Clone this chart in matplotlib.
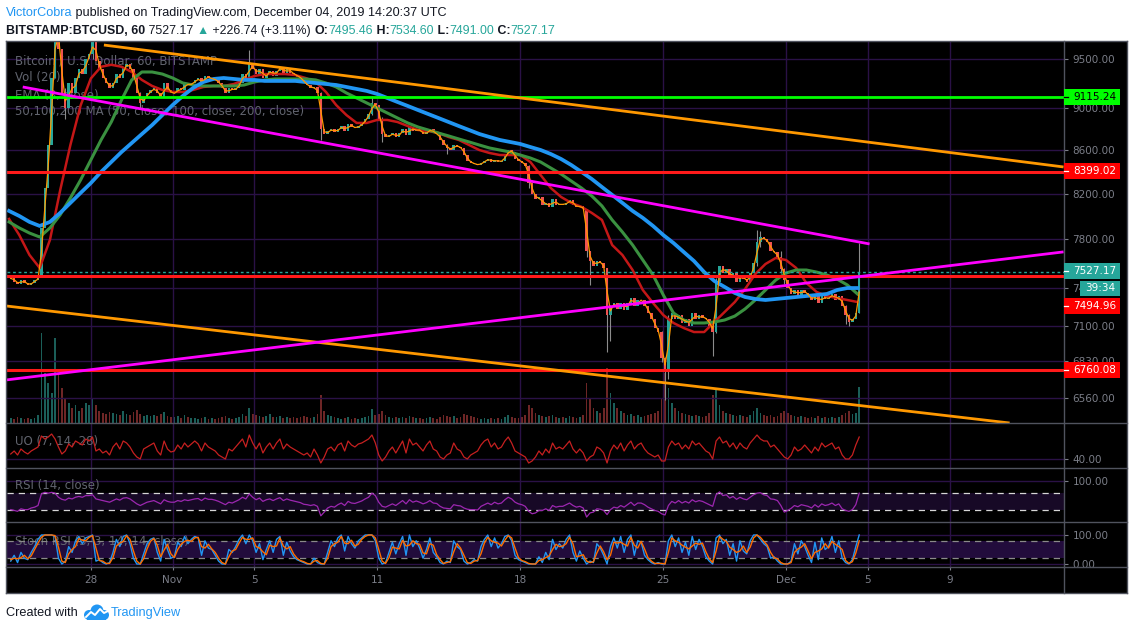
import matplotlib
matplotlib.use("Agg")
import matplotlib.pyplot as plt
from matplotlib.patches import Rectangle, Circle
from matplotlib.lines import Line2D
from matplotlib.ticker import FixedLocator, NullLocator, FuncFormatter
from matplotlib.transforms import Bbox, TransformedBbox
import numpy as np

plt.rcParams['font.family'] = ['DejaVu Sans']

# ---------------- data (4-hour bars, Oct 24 00:00 -> Dec 4 16:00 UTC) ----------------
first_open = 7470
close = [
    7480, 7450, 7430, 7460, 7440, 7420,
    7440, 7460, 7480, 7900, 8250, 8650,
    9300, 9900, 9600, 9150, 9000, 9250,
    9150, 9300, 9400, 9350, 9500, 9550,
    9700, 9480, 9400, 9300, 9250, 9200,
    9250, 9350, 9300, 9420, 9450, 9400,
    9300, 9150, 9050, 9100, 9150, 9180,
    9200, 9150, 9100, 9250, 9180, 9150,
    9150, 9200, 9180, 9250, 9230, 9250,
    9280, 9300, 9250, 9330, 9300, 9300,
    9280, 9250, 9200, 9150, 9200, 9180,
    9200, 9250, 9350, 9300, 9450, 9400,
    9350, 9400, 9300, 9350, 9380, 9330,
    9380, 9420, 9350, 9400, 9360, 9340,
    9320, 9300, 9250, 9230, 9200, 9210,
    9150, 8800, 8750, 8780, 8800, 8770,
    8800, 8830, 8780, 8850, 8820, 8810,
    8830, 8850, 8900, 8950, 9050, 9030,
    8900, 8750, 8720, 8740, 8760, 8720,
    8760, 8800, 8740, 8820, 8780, 8800,
    8780, 8750, 8770, 8800, 8760, 8750,
    8700, 8650, 8620, 8600, 8650, 8630,
    8620, 8550, 8500, 8480, 8470, 8460,
    8480, 8500, 8520, 8490, 8510, 8490,
    8500, 8550, 8600, 8580, 8520, 8500,
    8480, 8450, 8300, 8200, 8150, 8170,
    8100, 8120, 8080, 8150, 8100, 8110,
    8100, 8120, 8140, 8100, 8080, 8090,
    8060, 7700, 7620, 7580, 7620, 7600,
    7560, 7180, 7250, 7280, 7230, 7280,
    7220, 7280, 7320, 7250, 7300, 7300,
    7250, 7200, 7150, 7080, 7050, 6850,
    6750, 7150, 7200, 7150, 7180, 7120,
    7150, 7100, 7200, 7150, 7180, 7160,
    7150, 7100, 7050, 7450, 7580, 7520,
    7550, 7480, 7520, 7450, 7500, 7470,
    7450, 7520, 7600, 7780, 7820, 7800,
    7780, 7700, 7690, 7650, 7550, 7460,
    7400, 7350, 7380, 7340, 7380, 7360,
    7330, 7300, 7340, 7280, 7330, 7310,
    7320, 7350, 7300, 7330, 7250, 7180,
    7130, 7150, 7200, 7527.17]

ema8 = [
    7475, 7465, 7440, 7445, 7450, 7430,
    7430, 7450, 7470, 7690, 8075, 8450,
    8975, 9600, 9750, 9375, 9075, 9125,
    9200, 9225, 9350, 9375, 9425, 9525,
    9625, 9590, 9440, 9350, 9275, 9225,
    9225, 9300, 9325, 9360, 9435, 9425,
    9350, 9225, 9100, 9075, 9125, 9165,
    9190, 9175, 9125, 9175, 9215, 9165,
    9150, 9175, 9190, 9215, 9240, 9240,
    9265, 9290, 9275, 9290, 9315, 9300,
    9290, 9265, 9225, 9175, 9175, 9190,
    9190, 9225, 9300, 9325, 9375, 9425,
    9375, 9375, 9350, 9325, 9365, 9355,
    9355, 9400, 9385, 9375, 9380, 9350,
    9330, 9310, 9275, 9240, 9215, 9205,
    9180, 8975, 8775, 8765, 8790, 8785,
    8785, 8815, 8805, 8815, 8835, 8815,
    8820, 8840, 8875, 8925, 9000, 9040,
    8965, 8825, 8735, 8730, 8750, 8740,
    8740, 8780, 8770, 8780, 8800, 8790,
    8790, 8765, 8760, 8785, 8780, 8755,
    8725, 8675, 8635, 8610, 8625, 8640,
    8625, 8585, 8525, 8490, 8475, 8465,
    8470, 8490, 8510, 8505, 8500, 8500,
    8495, 8525, 8575, 8590, 8550, 8510,
    8490, 8465, 8375, 8250, 8175, 8160,
    8135, 8110, 8100, 8115, 8125, 8105,
    8105, 8110, 8130, 8120, 8090, 8085,
    8075, 7880, 7660, 7600, 7600, 7610,
    7580, 7370, 7215, 7265, 7255, 7255,
    7250, 7250, 7300, 7285, 7275, 7300,
    7275, 7225, 7175, 7115, 7065, 6950,
    6800, 6950, 7175, 7175, 7165, 7150,
    7135, 7125, 7150, 7175, 7165, 7170,
    7155, 7125, 7075, 7250, 7515, 7550,
    7535, 7515, 7500, 7485, 7475, 7485,
    7460, 7485, 7560, 7690, 7800, 7810,
    7790, 7740, 7695, 7670, 7600, 7505,
    7430, 7375, 7365, 7360, 7360, 7370,
    7345, 7315, 7320, 7310, 7305, 7320,
    7315, 7335, 7325, 7315, 7290, 7215,
    7155, 7140, 7175, 7365]

volume = [
    500, 400, 600, 500, 400, 500,
    400, 500, 800, 9000, 5000, 4000,
    3000, 8500, 5000, 3500, 2500, 2000,
    1500, 1800, 1200, 1500, 2000, 1800,
    2500, 1800, 1200, 1000, 900, 1100,
    1000, 900, 800, 1200, 900, 800,
    1100, 1300, 900, 700, 800, 700,
    800, 700, 900, 1100, 700, 600,
    600, 700, 500, 800, 600, 500,
    500, 400, 500, 600, 400, 500,
    400, 500, 600, 700, 500, 400,
    500, 600, 900, 700, 1500, 900,
    800, 700, 600, 700, 900, 600,
    600, 700, 500, 600, 500, 600,
    500, 600, 700, 600, 500, 600,
    900, 2800, 1200, 800, 700, 600,
    500, 400, 500, 600, 400, 500,
    400, 500, 600, 700, 1400, 800,
    900, 1200, 800, 600, 500, 600,
    500, 600, 500, 700, 600, 500,
    500, 400, 500, 600, 500, 400,
    600, 800, 700, 600, 700, 500,
    600, 900, 800, 700, 600, 500,
    400, 500, 400, 500, 400, 500,
    400, 600, 800, 600, 500, 500,
    600, 800, 1800, 1500, 1000, 800,
    700, 600, 700, 800, 600, 500,
    600, 500, 700, 600, 500, 600,
    800, 4000, 2500, 1500, 1200, 1000,
    1500, 5500, 3000, 2000, 1500, 1200,
    1000, 800, 900, 700, 800, 600,
    700, 800, 900, 1000, 1200, 2500,
    5000, 3500, 2000, 1500, 1200, 1000,
    900, 800, 700, 800, 700, 600,
    700, 1000, 2800, 3500, 1800, 1200,
    1000, 900, 800, 700, 800, 700,
    600, 800, 1200, 1500, 1000, 800,
    700, 800, 600, 700, 1000, 1200,
    1000, 800, 700, 600, 700, 600,
    500, 600, 500, 700, 500, 600,
    500, 600, 500, 600, 800, 1000,
    1200, 900, 1000, 3600]

# notable wicks: bar index, low, high
wick_idx = [13, 16, 24, 38, 70, 91, 106, 109, 128, 152, 169, 170, 175, 176,
            191, 192, 193, 206, 207, 219, 220, 226, 227, 245, 246, 249]
wick_low = [9300, 8900, 9500, 9000, 9280, 8700, 8940, 8680, 8560, 8250, 7650, 7420, 6900, 6980,
            6820, 6545, 6700, 6870, 7040, 7580, 7740, 7520, 7430, 7110, 7100, 7200]
wick_high = [10300, 9200, 9900, 9160, 9590, 9160, 9120, 8920, 8660, 8460, 8060, 7700, 7560, 7260,
             7060, 6860, 7180, 7110, 7480, 7880, 7870, 7700, 7560, 7260, 7190, 7770]

# moving averages, sampled every 12 hours from Oct 24 00:00
ma50 = [7977, 7838, 7669, 7561, 7796, 8230, 8648, 9030, 9300, 9420, 9440, 9420, 9366, 9285,
        9224, 9184, 9164, 9164, 9184, 9214, 9224, 9224, 9244, 9285, 9325, 9345, 9345, 9345,
        9335, 9305, 9264, 9164, 9034, 8936, 8859, 8859, 8888, 8888, 8868, 8829, 8791, 8781,
        8762, 8724, 8696, 8648, 8601, 8573, 8554, 8554, 8554, 8489, 8369, 8251, 8171, 8118,
        8083, 8030, 7968, 7753, 7669, 7544, 7381, 7277, 7182, 7120, 7081, 7050, 7050, 7128,
        7206, 7285, 7389, 7511, 7594, 7644, 7627, 7561, 7438, 7365, 7333, 7317, 7301, 7285]
ma100 = [7951, 7899, 7855, 7821, 7899, 8012, 8162, 8324, 8508, 8696, 8868, 9084, 9285, 9366,
         9366, 9345, 9305, 9254, 9234, 9224, 9224, 9224, 9224, 9234, 9264, 9285, 9295, 9295,
         9295, 9295, 9285, 9254, 9214, 9154, 9104, 9054, 9005, 8956, 8907, 8859, 8820, 8791,
         8762, 8734, 8705, 8677, 8648, 8620, 8601, 8582, 8554, 8526, 8489, 8433, 8378, 8314,
         8251, 8180, 8091, 7968, 7864, 7753, 7627, 7503, 7341, 7198, 7143, 7120, 7120, 7128,
         7143, 7174, 7230, 7301, 7381, 7462, 7519, 7544, 7544, 7527, 7503, 7470, 7422, 7349]
ma200 = [8047, 8003, 7951, 7916, 7951, 8030, 8118, 8207, 8296, 8397, 8489, 8582, 8667, 8753,
         8839, 8936, 9034, 9124, 9204, 9264, 9295, 9305, 9295, 9285, 9285, 9275, 9275, 9275,
         9275, 9264, 9254, 9244, 9234, 9214, 9194, 9174, 9144, 9104, 9064, 9025, 8985, 8946,
         8907, 8868, 8829, 8791, 8753, 8724, 8696, 8677, 8658, 8629, 8601, 8563, 8517, 8461,
         8397, 8333, 8260, 8189, 8118, 8047, 7986, 7916, 7838, 7770, 7694, 7619, 7527, 7454,
         7406, 7357, 7325, 7309, 7301, 7309, 7317, 7325, 7333, 7341, 7349, 7381, 7397, 7397]

uo = [
    45, 48, 44, 50, 47, 45,   48, 50, 52, 63, 60, 62,   65, 60, 52, 45, 48, 55,
    52, 58, 56, 54, 60, 58,   62, 48, 50, 46, 48, 44,   52, 56, 50, 58, 56, 52,
    46, 42, 40, 50, 52, 54,   56, 48, 44, 58, 50, 47,   48, 54, 50, 56, 52, 55,
    58, 55, 48, 56, 52, 50,   48, 44, 42, 40, 50, 48,   52, 56, 60, 52, 64, 56,
    50, 56, 46, 52, 56, 50,   56, 60, 50, 55, 52, 50,   48, 46, 44, 46, 42, 50,
    44, 36, 42, 50, 52, 48,   54, 56, 48, 58, 54, 52,   55, 56, 58, 60, 64, 56,
    44, 38, 42, 48, 52, 46,   52, 58, 46, 60, 54, 56,   52, 48, 54, 58, 50, 48,
    42, 40, 44, 46, 56, 50,   48, 42, 40, 44, 46, 48,   54, 58, 60, 52, 56, 50,
    52, 58, 62, 56, 48, 46,   44, 42, 36, 38, 42, 48,   44, 50, 46, 56, 50, 52,
    50, 54, 58, 50, 46, 50,   46, 38, 42, 44, 52, 50,   46, 36, 48, 54, 50, 56,
    48, 54, 58, 50, 54, 56,   50, 46, 44, 42, 44, 38,   38, 52, 58, 54, 56, 50,
    54, 50, 58, 54, 56, 52,   48, 46, 40, 58, 62, 56,   58, 52, 56, 50, 56, 52,
    50, 56, 60, 64, 60, 58,   58, 52, 54, 50, 46, 42,   40, 44, 52, 48, 50, 54,
    50, 46, 52, 48, 56, 52,   54, 56, 50, 52, 44, 40,   40, 44, 54, 62]

rsi = [
    30, 28, 26, 32, 30, 30,   34, 36, 40, 68, 72, 70,   72, 70, 60, 55, 53, 58,
    56, 60, 62, 60, 64, 64,   66, 56, 54, 52, 50, 48,   52, 56, 53, 58, 59, 56,
    50, 44, 40, 44, 48, 50,   52, 48, 44, 54, 50, 48,   48, 52, 50, 54, 52, 54,
    56, 57, 52, 58, 55, 55,   53, 50, 46, 42, 48, 46,   50, 54, 60, 56, 68, 60,
    54, 58, 50, 54, 56, 52,   56, 59, 52, 56, 53, 51,   49, 47, 43, 42, 40, 42,
    38, 15, 24, 34, 38, 36,   42, 46, 40, 50, 46, 45,   48, 51, 56, 60, 70, 64,
    48, 38, 36, 40, 44, 40,   46, 52, 44, 54, 48, 51,   48, 44, 47, 52, 46, 45,
    38, 34, 33, 32, 42, 40,   39, 34, 31, 30, 30, 29,   38, 42, 46, 42, 48, 44,
    46, 54, 60, 56, 48, 44,   42, 38, 26, 20, 22, 28,   28, 32, 28, 40, 36, 38,
    38, 42, 46, 40, 36, 38,   34, 12, 22, 24, 32, 31,   28, 18, 30, 36, 34, 40,
    36, 42, 48, 40, 46, 46,   42, 36, 32, 28, 26, 20,   17, 40, 50, 46, 52, 46,
    50, 46, 54, 49, 52, 50,   46, 42, 38, 66, 73, 64,   66, 58, 62, 55, 60, 56,
    54, 60, 66, 70, 71, 66,   64, 56, 55, 52, 40, 24,   28, 33, 40, 37, 42, 40,
    38, 34, 42, 36, 44, 40,   42, 46, 40, 44, 32, 28,   26, 30, 42, 70]

stoch_k = [
    10, 30, 5, 40, 20, 15,    40, 60, 85, 100, 100, 100,   100, 95, 20, 0, 10, 60,
    40, 80, 95, 70, 90, 95,   100, 10, 15, 5, 0, 5,        40, 85, 60, 95, 100, 70,
    20, 0, 0, 35, 70, 85,     90, 40, 10, 85, 50, 20,      25, 75, 60, 95, 70, 85,
    95, 90, 30, 80, 55, 50,   30, 10, 0, 0, 50, 40,        60, 85, 100, 70, 100, 80,
    40, 70, 15, 50, 80, 40,   85, 95, 30, 75, 45, 25,      15, 10, 5, 0, 0, 20,
    5, 0, 0, 40, 80, 60,      90, 100, 45, 95, 70, 55,     80, 90, 100, 100, 100, 80,
    20, 0, 5, 40, 75, 35,     70, 95, 30, 100, 60, 80,     55, 20, 50, 90, 40, 25,
    5, 0, 10, 5, 80, 60,      50, 10, 0, 5, 15, 10,        60, 85, 100, 60, 90, 55,
    70, 95, 100, 80, 30, 15,  10, 5, 0, 0, 0, 25,          5, 40, 15, 85, 50, 70,
    55, 85, 100, 40, 10, 45,  20, 0, 10, 5, 70, 55,        30, 0, 60, 90, 55, 95,
    40, 85, 100, 30, 80, 75,  30, 15, 5, 0, 5, 0,          0, 80, 100, 60, 90, 40,
    75, 30, 95, 50, 85, 60,   25, 10, 0, 90, 100, 70,      85, 30, 70, 10, 80, 45,
    35, 80, 100, 100, 85, 70, 60, 20, 25, 10, 0, 0,        0, 10, 70, 35, 80, 60,
    30, 5, 75, 15, 90, 50,    60, 95, 40, 80, 20, 5,       0, 15, 60, 100]

stoch_d = [
    15, 20, 18, 22, 30, 18,   28, 50, 72, 92, 100, 100,    100, 98, 58, 10, 5, 35,
    50, 60, 88, 82, 80, 92,   98, 55, 12, 10, 2, 2,        22, 62, 72, 78, 98, 85,
    45, 10, 0, 18, 52, 78,    88, 65, 25, 48, 68, 35,      22, 50, 68, 78, 82, 78,
    90, 92, 60, 55, 68, 52,   40, 20, 5, 0, 25, 45,        50, 72, 92, 85, 85, 90,
    60, 55, 42, 32, 65, 60,   62, 90, 62, 52, 60, 35,      20, 12, 8, 2, 0, 10,
    12, 2, 0, 20, 60, 70,     75, 95, 72, 70, 82, 62,      68, 85, 95, 100, 100, 90,
    50, 10, 2, 22, 58, 55,    52, 82, 62, 65, 80, 70,      68, 38, 35, 70, 65, 32,
    15, 2, 5, 8, 42, 70,      55, 30, 5, 2, 10, 12,        35, 72, 92, 80, 75, 72,
    62, 82, 98, 90, 55, 22,   12, 8, 2, 0, 0, 12,          15, 22, 28, 50, 68, 60,
    62, 70, 92, 70, 25, 28,   32, 10, 5, 8, 38, 62,        42, 15, 30, 75, 72, 75,
    68, 62, 92, 65, 55, 78,   52, 22, 10, 2, 2, 2,         0, 40, 90, 80, 75, 65,
    58, 52, 62, 72, 68, 72,   42, 18, 5, 45, 95, 85,       78, 58, 50, 40, 45, 62,
    40, 58, 90, 100, 92, 78,  65, 40, 22, 18, 5, 0,        0, 5, 40, 52, 58, 70,
    45, 18, 40, 45, 52, 70,   55, 78, 68, 60, 50, 12,      2, 8, 38, 80]

# drawn horizontal levels and trend lines (day offsets from Oct 28 00:00, price)
level_green = 9115.24
levels_red = [8399.02, 7494.96, 6760.08]
last_price = 7527.17
orange_top = ([0.64, 47.58], [9646, 8443])
orange_bottom = ([-4.11, 44.94], [7253, 6383])
magenta_down = ([-3.33, 38.09], [9214, 7762])
magenta_up = ([-4.11, 47.58], [6691, 7695])

price_ticks = [9500, 9000, 8600, 8200, 7800, 7400, 7100, 6830, 6560]
date_ticks = [0, 4, 8, 14, 21, 28, 34, 38, 42]
date_labels = ['28', 'Nov', '5', '11', '18', '25', 'Dec', '5', '9']

# ---------------- figure ----------------
W, H = 1133, 631
fig = plt.figure(figsize=(W / 100, H / 100), dpi=100)
fig.patch.set_facecolor('white')


def fx(px):
    return px / W


def fy(py):
    return 1 - py / H


BG = 'black'
GRID = '#2a1146'
FRAME = '#50535e'
AXTXT = '#7b7e88'
LEGTXT = '#62656f'
UP = '#26a69a'
DN = '#ef5350'
XMIN, XMAX = -4.1, 47.6
X0, X1 = 7, 1064

fig.add_artist(Rectangle((fx(6), fy(593)), fx(1127) - fx(6), fy(41) - fy(593),
                         transform=fig.transFigure, facecolor=BG, edgecolor='none', zorder=-5))


def make_ax(top, bottom, z=1, face=BG):
    ax = fig.add_axes([fx(X0), fy(bottom), (X1 - X0) / W, (bottom - top) / H], zorder=z)
    ax.set_facecolor(face)
    for s in ax.spines.values():
        s.set_visible(False)
    ax.set_xlim(XMIN, XMAX)
    ax.xaxis.set_major_locator(FixedLocator(date_ticks))
    ax.tick_params(axis='x', which='both', bottom=False, labelbottom=False)
    ax.yaxis.tick_right()
    ax.tick_params(axis='y', which='major', direction='out', length=3, width=0.8,
                   color=AXTXT, labelcolor=AXTXT, labelsize=7.5, pad=3)
    ax.tick_params(axis='y', which='minor', length=0)
    ax.set_axisbelow(True)
    return ax


n = len(close)
t = -4 + (np.arange(n) + 0.5) / 6.0
c = np.array(close, dtype=float)
o = np.r_[first_open, c[:-1]]
up = c >= o
ma_t = -4 + 0.5 * np.arange(len(ma50))

# volume pane (behind price)
ax_vol = make_ax(42, 423, z=0)
ax_vol.set_ylim(0, 38100)
ax_vol.set_yticks([])
ax_vol.bar(t, volume, width=0.085, color=np.where(up, '#1b5f59', '#6e2626'), linewidth=0)

# main price pane
ax = make_ax(42, 423, z=1, face='none')
ax.set_yscale('log')
ax.set_ylim(6383, 9678)
ax.yaxis.set_major_locator(FixedLocator(price_ticks))
ax.yaxis.set_minor_locator(NullLocator())
ax.yaxis.set_major_formatter(FuncFormatter(lambda v, p: f'{v:.2f}'))
ax.grid(True, axis='both', color=GRID, lw=1)

for i, s in enumerate(['Bitcoin / U.S. Dollar, 60, BITSTAMP', 'Vol (20)', 'EMA (8, close)',
                       '50,100,200 MA (50, close, 100, close, 200, close)']):
    ax.text(fx(15), fy(61 + 17 * i), s, transform=fig.transFigure, color=LEGTXT,
            fontsize=8.5, va='center', ha='left', zorder=1)

ax.vlines(np.array(t)[wick_idx], wick_low, wick_high, color='#8c8c8c', lw=0.8, zorder=1.9)
ax.bar(t[up], (c - o)[up], bottom=o[up], width=0.12, color=UP, linewidth=0, zorder=2)
ax.bar(t[~up], (o - c)[~up], bottom=c[~up], width=0.12, color=DN, linewidth=0, zorder=2)

ax.plot(ma_t, ma50, color='#c41717', lw=1.8, zorder=3)
ax.plot(ma_t, ma100, color='#3a9140', lw=2.2, zorder=3.1)
ax.plot(ma_t, ma200, color='#2196f3', lw=2.7, zorder=3.2)
ax.plot(t, ema8, color='#ff9800', lw=0.9, zorder=3.5)

ax.axhline(level_green, color='#00ff00', lw=2, zorder=4)
for lv in levels_red:
    ax.axhline(lv, color='#ff1a1a', lw=2.2, zorder=4)
ax.axhline(last_price, color=UP, lw=1, ls=(0, (2, 2)), zorder=4)
for xs, ys in [orange_top, orange_bottom]:
    ax.plot(xs, ys, color='#ff9800', lw=2, zorder=4, solid_capstyle='butt')
for xs, ys in [magenta_down, magenta_up]:
    ax.plot(xs, ys, color='#ff00ff', lw=2, zorder=4, solid_capstyle='butt')

# UO pane
ax_uo = make_ax(423, 468)
ax_uo.set_ylim(31, 76)
ax_uo.set_yticks([40])
ax_uo.yaxis.set_major_formatter(FuncFormatter(lambda v, p: f'{v:.2f}'))
ax_uo.grid(True, axis='both', color=GRID, lw=1)
ax_uo.text(fx(15), fy(441), 'UO (7, 14, 28)', transform=fig.transFigure, color=LEGTXT,
           fontsize=8.5, va='center', zorder=1)
ax_uo.plot(t, uo, color='#c62020', lw=0.9, zorder=3)

# RSI pane
ax_rsi = make_ax(468, 522)
ax_rsi.set_ylim(0, 131)
ax_rsi.set_yticks([100])
ax_rsi.yaxis.set_major_formatter(FuncFormatter(lambda v, p: f'{v:.2f}'))
ax_rsi.grid(True, axis='both', color=GRID, lw=1)
ax_rsi.axhspan(30, 70, color='#170926', lw=0, zorder=0.5)
for lv in (70, 30):
    ax_rsi.axhline(lv, color='#d6d6d6', lw=0.9, ls=(0, (5, 4)), zorder=1.5)
ax_rsi.text(fx(15), fy(486), 'RSI (14, close)', transform=fig.transFigure, color=LEGTXT,
            fontsize=8.5, va='center', zorder=1)
ax_rsi.plot(t, rsi, color='#9c27b0', lw=0.9, zorder=3)

# Stoch RSI pane
ax_st = make_ax(522, 567)
ax_st.set_ylim(-10.3, 144.8)
ax_st.set_yticks([100, 0])
ax_st.yaxis.set_major_formatter(FuncFormatter(lambda v, p: f'{v:.2f}'))
ax_st.grid(True, axis='both', color=GRID, lw=1)
ax_st.axhspan(20, 80, color='#220c3c', lw=0, zorder=0.5)
for lv in (80, 20):
    ax_st.axhline(lv, color='#8a8a8a', lw=0.9, ls=(0, (5, 4)), zorder=1.5)
ax_st.text(fx(15), fy(541), 'Stoch RSI (3, 3, 14, 14, close)', transform=fig.transFigure,
           color=LEGTXT, fontsize=8.5, va='center', zorder=1)
ax_st.plot(t, stoch_k, color='#2196f3', lw=1, zorder=3)
ax_st.plot(t, stoch_d, color='#ff6d00', lw=1, zorder=3.1)
ax_st.set_xticks(date_ticks)
ax_st.set_xticklabels(date_labels)
ax_st.tick_params(axis='x', bottom=True, labelbottom=True, direction='out', length=2.5,
                  width=0.8, color=AXTXT, labelcolor=AXTXT, labelsize=7.5, pad=3.5)
clipbb = TransformedBbox(Bbox([[fx(1064), fy(567)], [fx(1127), fy(522)]]), fig.transFigure)
for tk in ax_st.yaxis.get_major_ticks():
    tk.label2.set_clip_box(clipbb)
    tk.label2.set_clip_on(True)
# the 7400 axis label is mostly hidden behind the countdown box, as in the reference
clip74 = TransformedBbox(Bbox([[fx(1064), fy(423)], [fx(1080), fy(42)]]), fig.transFigure)
for tk in ax.yaxis.get_major_ticks():
    if abs(tk.get_loc() - 7400) < 1:
        tk.label2.set_clip_box(clip74)
        tk.label2.set_clip_on(True)


# frame
def fline(xa, ya, xb, yb, col=FRAME, lw=1.0):
    fig.add_artist(Line2D([fx(xa), fx(xb)], [fy(ya), fy(yb)], transform=fig.transFigure,
                          color=col, lw=lw, zorder=10))


for yy in (423, 468, 522, 567):
    fline(6, yy, 1127, yy)
fline(6, 41, 1127, 41)
fline(6, 593, 1127, 593)
fline(6, 41, 6, 593)
fline(1127, 41, 1127, 593)
fline(1064, 41, 1064, 593)


# price labels on the axis
def price_box(yc, text, face, tcol, x0=1064, x1=1120, h=16, tx=1073, ha='left', dash=True):
    fig.add_artist(Rectangle((fx(x0), fy(yc + h / 2)), fx(x1) - fx(x0), h / H,
                             transform=fig.transFigure, facecolor=face, edgecolor='none', zorder=11))
    if dash:
        fig.add_artist(Line2D([fx(1064), fx(1068)], [fy(yc), fy(yc)], transform=fig.transFigure,
                              color=tcol, lw=0.9, zorder=12))
    fig.text(fx(tx), fy(yc), text, color=tcol, fontsize=7.5, va='center', ha=ha, zorder=12)


price_box(96.5, f'{level_green:.2f}', '#00ff00', 'black')
price_box(171, f'{levels_red[0]:.2f}', '#ff0000', 'white')
price_box(271, f'{last_price:.2f}', '#26a69a', 'white')
price_box(288, '39:34', '#26a69a', 'white', x0=1080, x1=1120, h=15, tx=1100, ha='center', dash=False)
price_box(306, f'{levels_red[1]:.2f}', '#ff0000', 'white')
price_box(370, f'{levels_red[2]:.2f}', '#ff0000', 'white')

# header
renderer = fig.canvas.get_renderer()


def seg_text(x_px, y_px, parts, size):
    x = x_px
    for s, col, wt in parts:
        tt = fig.text(fx(x), fy(y_px), s, color=col, fontsize=size, fontweight=wt,
                      family=['Liberation Sans', 'DejaVu Sans'], va='center', ha='left')
        x += tt.get_window_extent(renderer=renderer).width


TEAL = '#26a69a'
BLK = '#131722'
seg_text(6, 13, [('VictorCobra', '#2196f3', 'normal'),
                 (' published on TradingView.com, December 04, 2019 14:20:37 UTC', BLK, 'normal')], 9.1)
seg_text(6, 31, [('BITSTAMP:BTCUSD, 60', BLK, 'bold'), (' 7527.17 ', BLK, 'normal'),
                 ('\u25B2', TEAL, 'normal'), (' +226.74 (+3.11%) ', BLK, 'normal'),
                 ('O:', BLK, 'bold'), ('7495.46', TEAL, 'normal'),
                 (' H:', BLK, 'bold'), ('7534.60', TEAL, 'normal'),
                 (' L:', BLK, 'bold'), ('7491.00', TEAL, 'normal'),
                 (' C:', BLK, 'bold'), ('7527.17', TEAL, 'normal')], 8.9)

# footer
fig.text(fx(6), fy(613), 'Created with', color=BLK, fontsize=9.2,
         family=['Liberation Sans', 'DejaVu Sans'], va='center', ha='left')
lax = fig.add_axes([fx(81), fy(622), 30 / W, 18 / H])
lax.set_xlim(81, 111)
lax.set_ylim(622, 604)
lax.axis('off')
for cx, cy, r in [(89, 615, 5), (97, 611, 6.5), (104, 615, 5)]:
    lax.add_patch(Circle((cx, cy), r, color='#2196f3', lw=0))
lax.add_patch(Rectangle((87, 614), 19, 6, color='#2196f3', lw=0))
lax.plot([86, 91, 95, 100, 104, 108], [617, 612, 615, 609, 613, 611], color='white', lw=1.4)
fig.text(fx(111), fy(613), 'TradingView', color='#2196f3', fontsize=9.2,
         family=['Liberation Sans', 'DejaVu Sans'], va='center', ha='left')

fig.savefig('out.png', dpi=100, facecolor='white')
